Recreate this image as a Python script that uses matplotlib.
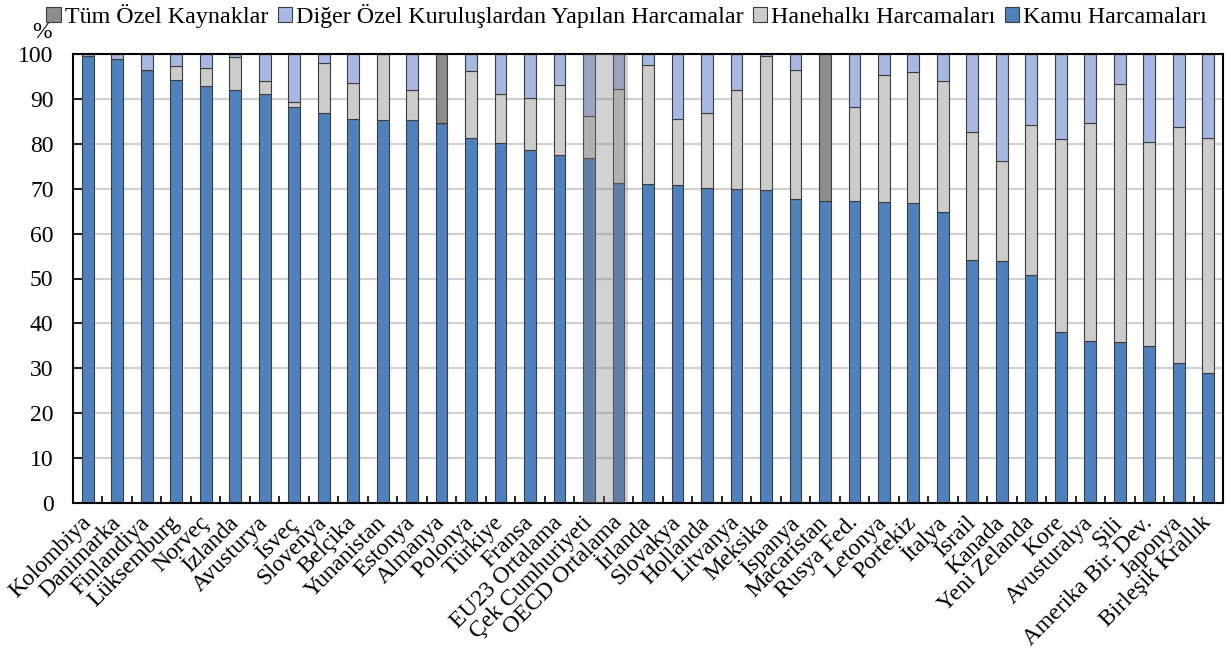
import numpy as np
import matplotlib
matplotlib.use("Agg")
import matplotlib.pyplot as plt
from matplotlib.patches import Rectangle

plt.rcParams['font.family'] = ['Liberation Serif', 'DejaVu Serif']
plt.rcParams['font.size'] = 17

countries = [
    "Kolombiya", "Danimarka", "Finlandiya", "Lüksemburg", "Norveç", "İzlanda",
    "Avusturya", "İsveç", "Slovenya", "Belçika", "Yunanistan", "Estonya",
    "Almanya", "Polonya", "Türkiye", "Fransa", "EU23 Ortalama",
    "Çek Cumhuriyeti", "OECD Ortalama", "İrlanda", "Slovakya", "Hollanda",
    "Litvanya", "Meksika", "İspanya", "Macaristan", "Rusya Fed.", "Letonya",
    "Portekiz", "İtalya", "İsrail", "Kanada", "Yeni Zelanda", "Kore",
    "Avusturalya", "Şili", "Amerika Bir. Dev.", "Japonya", "Birleşik Krallık",
]
kamu = [99.6, 98.9, 96.5, 94.2, 92.8, 91.9, 91.1, 88.3, 86.8, 85.5, 85.4, 85.3,
        84.7, 81.3, 80.1, 78.7, 77.5, 76.9, 71.3, 71.1, 70.9, 70.2, 69.9, 69.6,
        67.7, 67.3, 67.3, 67.1, 66.9, 64.8, 54.2, 53.9, 50.7, 38.1, 36.1, 35.8,
        35.0, 31.2, 29.0]
hanehalki = [0.0, 0.0, 0.0, 3.2, 4.0, 7.4, 2.9, 1.1, 11.3, 8.0, 14.6, 6.6,
             0.0, 15.0, 11.1, 11.5, 15.7, 9.3, 21.0, 26.5, 14.7, 16.6, 22.1, 30.0,
             28.8, 0.0, 20.8, 28.2, 29.2, 29.2, 28.5, 22.3, 33.4, 43.0, 48.6, 57.5,
             45.4, 52.6, 52.4]
diger_ozel = [0.4, 1.1, 3.5, 2.6, 3.2, 0.7, 6.0, 10.6, 1.9, 6.5, 0.0, 8.1,
              0.0, 3.7, 8.8, 9.8, 6.8, 13.8, 7.7, 2.4, 14.4, 13.2, 8.0, 0.4,
              3.5, 0.0, 11.9, 4.7, 3.9, 6.0, 17.3, 23.8, 15.9, 18.9, 15.3, 6.7,
              19.6, 16.2, 18.6]
tum_ozel = [0.0] * 12 + [15.3] + [0.0] * 12 + [32.7] + [0.0] * 13

series_names = ["Tüm Özel Kaynaklar", "Diğer Özel Kuruluşlardan Yapılan Harcamalar",
                "Hanehalkı Harcamaları", "Kamu Harcamaları"]
c_kamu = "#4F81BD"
c_hh = "#CCCCCC"
c_diger = "#A7B9E3"
c_tum = "#8C8C8C"
edge = "#3C3C3C"

fig = plt.figure(figsize=(12.31, 6.66), dpi=100)
ax = fig.add_axes([73 / 1231, 1 - 503 / 666, (1223 - 73) / 1231, (503 - 54) / 666])

x = np.arange(len(countries))
w = 0.4
kamu = np.array(kamu)
hanehalki = np.array(hanehalki)
diger_ozel = np.array(diger_ozel)
tum_ozel = np.array(tum_ozel)

kw = dict(width=w, edgecolor=edge, linewidth=0.8, zorder=2)
b_kamu = ax.bar(x, kamu, color=c_kamu, **kw)
b_hh = ax.bar(x, hanehalki, bottom=kamu, color=c_hh, **kw)
b_dg = ax.bar(x, diger_ozel, bottom=kamu + hanehalki, color=c_diger, **kw)
b_tum = ax.bar(x, tum_ozel, bottom=kamu + hanehalki + diger_ozel, color=c_tum, **kw)

# highlight band (shaded over the bars inside the axes, plain below)
band_lo, band_hi = 16.78, 18.31
ax.axvspan(band_lo, band_hi, color="#808080", alpha=0.35, lw=0, zorder=3)
x0 = ax.transData.transform((band_lo, 0))[0] / fig.bbox.width
x1 = ax.transData.transform((band_hi, 0))[0] / fig.bbox.width
fig.patches.append(Rectangle((x0, 0), x1 - x0, 1 - 503 / 666, transform=fig.transFigure,
                             facecolor="#D2D2D2", edgecolor="none", zorder=-1))

ax.set_xlim(-0.5, len(countries) - 0.5)
ax.set_ylim(0, 100)
ax.set_yticks(np.arange(0, 101, 10))
ax.yaxis.grid(True, color="#D0D0D0", linewidth=1.5)
ax.set_axisbelow(True)
ax.tick_params(axis="y", direction="in", length=6.5, width=1.2, pad=14, labelsize=17)

ax.set_xticks(x)
ax.set_xticklabels(countries, rotation=45, ha="right", va="center",
                   rotation_mode="anchor", fontsize=17)
ax.tick_params(axis="x", which="major", length=0, pad=12)
ax.set_xticks(x[:-1] + 0.5, minor=True)
ax.tick_params(axis="x", which="minor", direction="in", length=5, width=1.2)

for s in ax.spines.values():
    s.set_linewidth(1.5)
    s.set_color("black")

fig.text(42 / 1231, 1 - 33 / 666, "%", ha="center", va="center", fontsize=17)

handles = [b_tum, b_dg, b_hh, b_kamu]
fig.legend(handles, series_names, loc="center", bbox_to_anchor=(0.509, 1 - 16 / 666),
           ncol=4, frameon=False, prop={"family": "Liberation Serif", "size": 17.3},
           handlelength=0.6, handleheight=0.6, handletextpad=0.15,
           columnspacing=0.4, borderpad=0.1)

fig.savefig("out.png", dpi=100)
